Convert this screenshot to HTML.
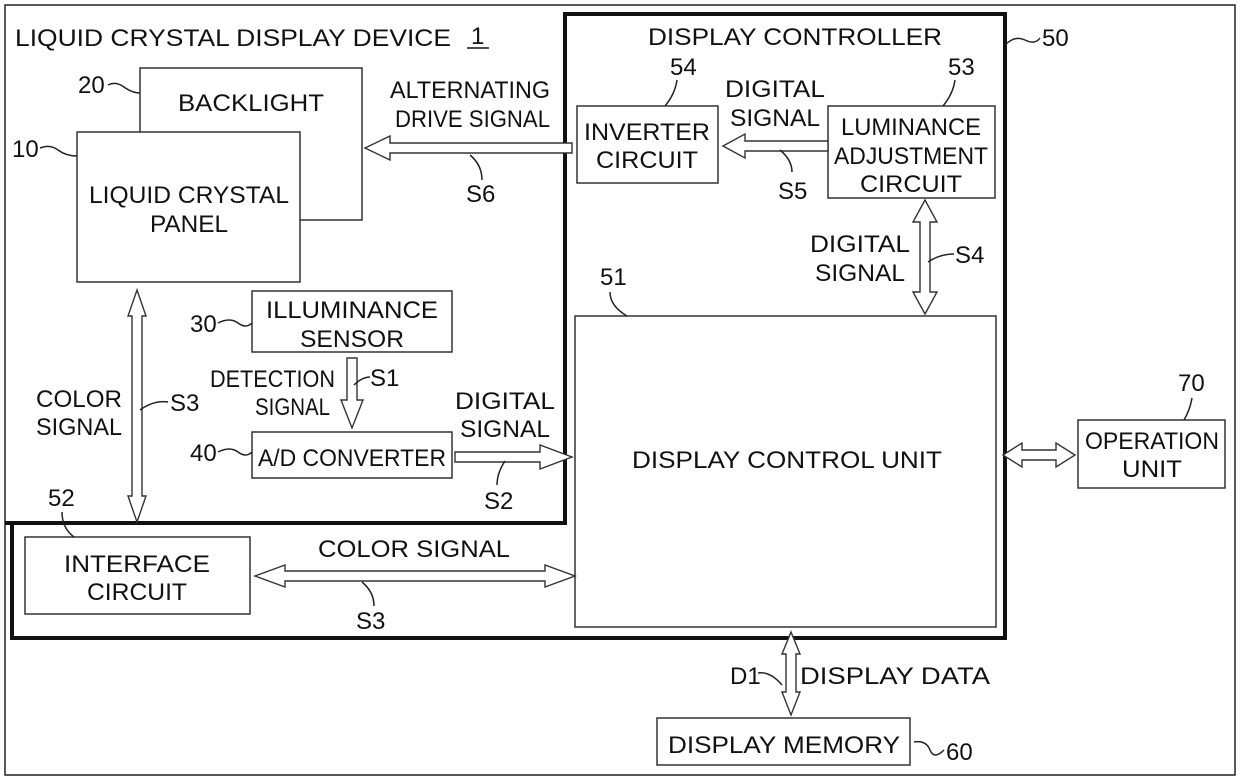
<!DOCTYPE html>
<html><head><meta charset="utf-8"><style>
html,body{margin:0;padding:0;background:#fff}
svg{display:block}
text{font-family:"Liberation Sans",sans-serif;font-size:24px;fill:#111}
.l{fill:none;stroke:#222;stroke-width:1.5}
.t{fill:none;stroke:#111;stroke-width:4}
.b{fill:#fff;stroke:#333;stroke-width:1.5}
.a{fill:#fff;stroke:#333;stroke-width:1.4}
</style></head><body>
<svg width="1240" height="780" viewBox="0 0 1240 780" xmlns="http://www.w3.org/2000/svg">
<rect x="5" y="5" width="1230" height="770" class="l"/>
<polyline points="5,523 565,523 565,12" class="t"/>
<polyline points="565,14 1005,14 1005,638 12,638 12,523" class="t"/>

<text x="15" y="46" textLength="436" lengthAdjust="spacingAndGlyphs">LIQUID CRYSTAL DISPLAY DEVICE</text>
<text x="471" y="44">1</text><line x1="467" y1="48" x2="489" y2="48" stroke="#111" stroke-width="1.5"/>
<text x="648" y="45" textLength="294" lengthAdjust="spacingAndGlyphs">DISPLAY CONTROLLER</text>
<path d="M1005,45 q10,-10 20,-5 t15,-2" class="l"/><text x="1042" y="46">50</text>

<rect x="140" y="68" width="222" height="152" class="b"/>
<text x="251" y="111" text-anchor="middle" textLength="146" lengthAdjust="spacingAndGlyphs">BACKLIGHT</text>
<rect x="77" y="132" width="223" height="150" class="b"/>
<text x="189" y="203" text-anchor="middle" textLength="200" lengthAdjust="spacingAndGlyphs">LIQUID CRYSTAL</text>
<text x="189" y="232" text-anchor="middle" textLength="78" lengthAdjust="spacingAndGlyphs">PANEL</text>
<text x="78" y="93">20</text><path d="M108,85 q8,-4 16,2 t16,6" class="l"/>
<text x="12" y="157">10</text><path d="M40,148 q10,-4 18,2 t19,6" class="l"/>

<polygon points="572,143 390,143 390,136 365,148 390,160 390,153 572,153" class="a"/>
<text x="390" y="98" textLength="160" lengthAdjust="spacingAndGlyphs">ALTERNATING</text>
<text x="395" y="127" textLength="155" lengthAdjust="spacingAndGlyphs">DRIVE SIGNAL</text>
<path d="M470,155 q12,10 12,25" class="l"/><text x="466" y="202">S6</text>

<rect x="577" y="106" width="141" height="77" class="b"/>
<text x="647" y="140" text-anchor="middle" textLength="126" lengthAdjust="spacingAndGlyphs">INVERTER</text>
<text x="647" y="168" text-anchor="middle" textLength="102" lengthAdjust="spacingAndGlyphs">CIRCUIT</text>
<text x="670" y="75">54</text><path d="M677,80 q-2,14 -12,26" class="l"/>
<rect x="828" y="106" width="167" height="92" class="b"/>
<text x="911" y="135" text-anchor="middle" textLength="140" lengthAdjust="spacingAndGlyphs">LUMINANCE</text>
<text x="911" y="164" text-anchor="middle" textLength="154" lengthAdjust="spacingAndGlyphs">ADJUSTMENT</text>
<text x="911" y="192" text-anchor="middle" textLength="102" lengthAdjust="spacingAndGlyphs">CIRCUIT</text>
<text x="948" y="75">53</text><path d="M955,80 q-2,14 -12,26" class="l"/>
<polygon points="828,141 745,141 745,134 723,146 745,158 745,151 828,151" class="a"/>
<text x="725" y="97" textLength="100" lengthAdjust="spacingAndGlyphs">DIGITAL</text>
<text x="730" y="126" textLength="90" lengthAdjust="spacingAndGlyphs">SIGNAL</text>
<path d="M780,150 q12,10 12,22" class="l"/><text x="778" y="199">S5</text>
<polygon points="925,200 937,222 930,222 930,292 937,292 925,314 913,292 920,292 920,222 913,222" class="a"/>
<text x="810" y="252" textLength="100" lengthAdjust="spacingAndGlyphs">DIGITAL</text>
<text x="815" y="281" textLength="90" lengthAdjust="spacingAndGlyphs">SIGNAL</text>
<path d="M928,262 q12,-8 26,-8" class="l"/><text x="955" y="263">S4</text>

<rect x="575" y="316" width="421" height="311" class="b"/>
<text x="787" y="468" text-anchor="middle" textLength="310" lengthAdjust="spacingAndGlyphs">DISPLAY CONTROL UNIT</text>
<text x="600" y="285">51</text><path d="M610,292 q0,14 17,24" class="l"/>

<rect x="252" y="291" width="200" height="61" class="b"/>
<text x="352" y="318" text-anchor="middle" textLength="172" lengthAdjust="spacingAndGlyphs">ILLUMINANCE</text>
<text x="352" y="347" text-anchor="middle" textLength="104" lengthAdjust="spacingAndGlyphs">SENSOR</text>
<text x="190" y="332">30</text><path d="M218,323 q12,-6 20,0 t14,0" class="l"/>
<polygon points="347,358 357,358 357,400 363,400 352,428 341,400 347,400" class="a"/>
<text x="210" y="387" textLength="125" lengthAdjust="spacingAndGlyphs">DETECTION</text>
<text x="255" y="415" textLength="75" lengthAdjust="spacingAndGlyphs">SIGNAL</text>
<path d="M354,385 q8,-8 16,-8" class="l"/><text x="370" y="386">S1</text>
<rect x="252" y="432" width="200" height="46" class="b"/>
<text x="352" y="466" text-anchor="middle" textLength="188" lengthAdjust="spacingAndGlyphs">A/D CONVERTER</text>
<text x="190" y="461">40</text><path d="M218,452 q12,-6 20,0 t14,0" class="l"/>
<polygon points="455,452 540,452 540,445 572,457 540,469 540,462 455,462" class="a"/>
<text x="455" y="409" textLength="100" lengthAdjust="spacingAndGlyphs">DIGITAL</text>
<text x="460" y="437" textLength="90" lengthAdjust="spacingAndGlyphs">SIGNAL</text>
<path d="M505,461 q-8,12 -8,24" class="l"/><text x="484" y="509">S2</text>

<polygon points="137,290 146,316 142,316 142,496 146,496 137,522 128,496 132,496 132,316 128,316" class="a"/>
<text x="36" y="407" textLength="86" lengthAdjust="spacingAndGlyphs">COLOR</text>
<text x="36" y="435" textLength="86" lengthAdjust="spacingAndGlyphs">SIGNAL</text>
<path d="M140,410 q14,-10 28,-8" class="l"/><text x="170" y="411">S3</text>

<rect x="25" y="537" width="225" height="77" class="b"/>
<text x="137" y="572" text-anchor="middle" textLength="146" lengthAdjust="spacingAndGlyphs">INTERFACE</text>
<text x="137" y="600" text-anchor="middle" textLength="100" lengthAdjust="spacingAndGlyphs">CIRCUIT</text>
<text x="48" y="506">52</text><path d="M62,512 q0,16 12,25" class="l"/>
<polygon points="255,576 285,565 285,571 545,571 545,565 575,576 545,587 545,581 285,581 285,587" class="a"/>
<text x="318" y="557" textLength="192" lengthAdjust="spacingAndGlyphs">COLOR SIGNAL</text>
<path d="M362,582 q12,10 12,24" class="l"/><text x="356" y="629">S3</text>

<polygon points="1003,455 1022,443 1022,450 1056,450 1056,443 1075,455 1056,467 1056,460 1022,460 1022,467" class="a"/>
<rect x="1078" y="420" width="147" height="68" class="b"/>
<text x="1152" y="449" text-anchor="middle" textLength="134" lengthAdjust="spacingAndGlyphs">OPERATION</text>
<text x="1152" y="477" text-anchor="middle" textLength="60" lengthAdjust="spacingAndGlyphs">UNIT</text>
<text x="1178" y="391">70</text><path d="M1192,398 q-2,12 -8,22" class="l"/>

<polygon points="791,632 800,654 796,654 796,692 800,692 791,715 782,692 786,692 786,654 782,654" class="a"/>
<text x="730" y="684">D1</text><path d="M758,673 q12,-2 24,12" class="l"/>
<text x="800" y="684" textLength="190" lengthAdjust="spacingAndGlyphs">DISPLAY DATA</text>
<rect x="657" y="718" width="253" height="47" class="b"/>
<text x="784" y="753" text-anchor="middle" textLength="232" lengthAdjust="spacingAndGlyphs">DISPLAY MEMORY</text>
<path d="M914,742 q12,-2 16,8 t14,0" class="l"/><text x="946" y="760">60</text>
</svg>
</body></html>
